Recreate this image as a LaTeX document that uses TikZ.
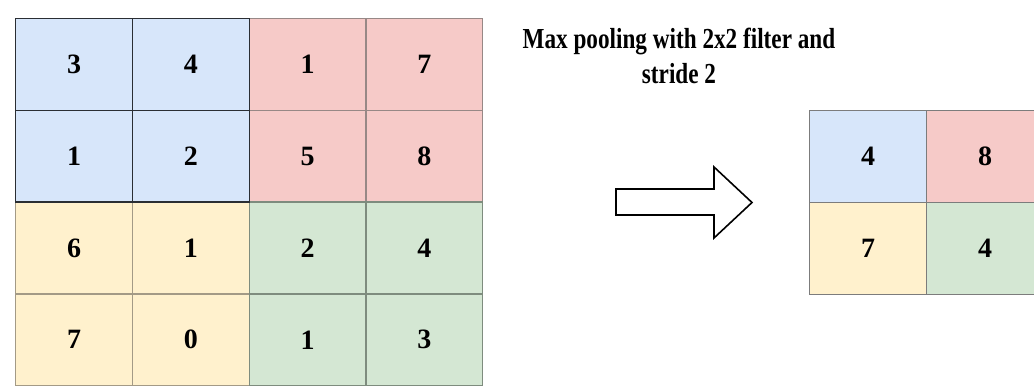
\documentclass[tikz,border=0pt]{standalone}
\usepackage{fontspec}
\setmainfont{Liberation Serif}
\newfontfamily\narrowserif[FakeStretch=0.8]{Liberation Serif}
\usetikzlibrary{positioning}

\definecolor{cellblue}{HTML}{D7E6FA}
\definecolor{cellred}{HTML}{F6CAC8}
\definecolor{cellyellow}{HTML}{FFF1CD}
\definecolor{cellgreen}{HTML}{D4E7D3}
\definecolor{lineblue}{HTML}{2A2E33}
\definecolor{linered}{HTML}{978886}
\definecolor{lineyellow}{HTML}{A39A86}
\definecolor{linegreen}{HTML}{7E8C7E}
\definecolor{lineout}{HTML}{7C7C7C}

\begin{document}
\begin{tikzpicture}[x=1pt, y=-1pt,
    cell/.style={line width=1.4pt, inner sep=0pt, anchor=north west,
        font=\fontsize{28}{30}\selectfont\bfseries},
    incell/.style={cell, minimum width=116.75pt, minimum height=91.75pt},
    outcell/.style={cell, minimum width=117pt, minimum height=92pt, draw=lineout}]
    \clip (0,0) rectangle (1034,387);
    \fill[white] (0,0) rectangle (1034,387);

    % Left grid: 4x4 input, blue block drawn last
    \begin{scope}[shift={(15,18)}]
        \foreach \i/\j/\v/\c in {1/3/1/red, 1/4/7/red, 2/3/5/red, 2/4/8/red,
                                 3/1/6/yellow, 3/2/1/yellow, 4/1/7/yellow, 4/2/0/yellow,
                                 3/3/2/green, 3/4/4/green, 4/3/1/green, 4/4/3/green,
                                 1/1/3/blue, 1/2/4/blue, 2/1/1/blue, 2/2/2/blue} {
            \node[incell, fill=cell\c, draw=line\c] (in-\i-\j)
                at ({(\j-1)*116.75}, {(\i-1)*91.75}) {\v};
        }
    \end{scope}

    % Arrow
    \draw[line width=1.6pt, fill=white, line join=miter]
        (616,189) -- (714,189) -- (714,167) -- (752,202.5)
        -- (714,238) -- (714,215) -- (616,215) -- cycle;

    % Title
    \node[align=center, font=\narrowserif\fontsize{29}{35}\selectfont\bfseries] (title)
        at (679,56) {Max pooling with 2x2 filter and\\stride 2};

    % Right grid: 2x2 output
    \begin{scope}[shift={(809,110)}]
        \foreach \i/\j/\v/\c in {1/1/4/blue, 1/2/8/red, 2/1/7/yellow, 2/2/4/green} {
            \node[outcell, fill=cell\c] (out-\i-\j)
                at ({(\j-1)*117}, {(\i-1)*92}) {\v};
        }
    \end{scope}
\end{tikzpicture}
\end{document}
